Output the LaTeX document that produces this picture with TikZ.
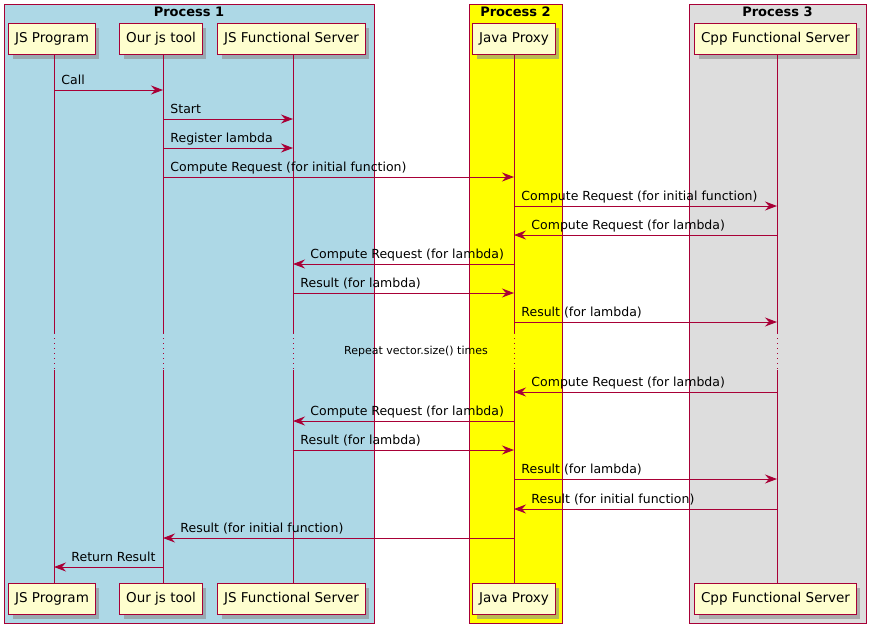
\documentclass[tikz,border=0pt]{standalone}
\usepackage{fontspec}
\setmainfont{DejaVu Sans}
\usetikzlibrary{arrows.meta,shadows}
\definecolor{umlred}{HTML}{A80036}
\definecolor{umlcream}{HTML}{FEFECE}
\definecolor{procblue}{HTML}{ADD8E6}
\definecolor{procyellow}{HTML}{FFFF00}
\definecolor{procgray}{HTML}{DDDDDD}

\begin{document}
\begin{tikzpicture}[
    x=1pt, y=-1pt,
    participant/.style={rectangle, draw=umlred, line width=1.5pt, fill=umlcream, minimum height=31pt, inner xsep=6.5pt, font=\fontsize{13.5}{16}\selectfont, drop shadow={shadow xshift=4pt, shadow yshift=-4pt, fill=black!45, opacity=0.6}},
    procbox/.style={draw=umlred, line width=0.9pt},
    proctitle/.style={font=\bfseries\fontsize{13}{15}\selectfont, anchor=center},
    lifeline/.style={draw=umlred, line width=0.9pt},
    delayline/.style={draw=umlred, line width=0.9pt, dash pattern=on 1pt off 4pt},
    msg/.style={draw=umlred, line width=0.9pt, -{Stealth[length=12pt, width=9pt, inset=4pt]}},
    msglabel/.style={font=\fontsize{12.5}{15}\selectfont, anchor=base west, inner sep=0pt}
]
\useasboundingbox (0,0) rectangle (876,633);

% Process boxes
\draw[procbox, fill=procblue] (4,4) rectangle (374,623);
\node[proctitle] (p1) at (189,12) {Process 1};
\draw[procbox, fill=procyellow] (469,4) rectangle (562,623);
\node[proctitle] (p2) at (515.5,12) {Process 2};
\draw[procbox, fill=procgray] (689,4) rectangle (866,623);
\node[proctitle] (p3) at (777.5,12) {Process 3};

% Delay
\node[font=\fontsize{11}{13}\selectfont] (delay) at (416,351) {Repeat vector.size() times};

% Participants (top and bottom)
\node[participant] (jsp) at (52,39) {JS Program};
\node[participant] (tool) at (161,39) {Our js tool};
\node[participant] (jsfs) at (291.5,39) {JS Functional Server};
\node[participant] (proxy) at (514,39) {Java Proxy};
\node[participant] (cpp) at (775.5,39) {Cpp Functional Server};

\node[participant] (jspb) at (52,599) {JS Program};
\node[participant] (toolb) at (161,599) {Our js tool};
\node[participant] (jsfsb) at (291.5,599) {JS Functional Server};
\node[participant] (proxyb) at (514,599) {Java Proxy};
\node[participant] (cppb) at (775.5,599) {Cpp Functional Server};

% Lifelines
\foreach \p/\x in {jsp/54, tool/163, jsfs/293, proxy/514, cpp/777} {
    \coordinate (\p top) at (\x,333);
    \coordinate (\p bot) at (\x,370);
    \draw[lifeline] (\p.south -| \p top) -- (\p top);
    \draw[delayline] (\p top) -- (\p bot);
    \draw[lifeline] (\p bot) -- (\p b.north -| \p bot);
}

% Messages to the right
\foreach \y/\a/\b/\t in {90/jsp/tool/Call,
        119/tool/jsfs/Start,
        148/tool/jsfs/Register lambda,
        177/tool/proxy/{Compute Request (for initial function)},
        206/proxy/cpp/{Compute Request (for initial function)},
        293/jsfs/proxy/{Result (for lambda)},
        322/proxy/cpp/{Result (for lambda)},
        450/jsfs/proxy/{Result (for lambda)},
        479/proxy/cpp/{Result (for lambda)}}
    \draw[msg] (\a top |- 0,\y) -- (\b top |- 0,\y)
        node[msglabel, pos=0, xshift=7pt, yshift=5.5pt] {\t};

% Messages to the left
\foreach \y/\a/\b/\t in {235/cpp/proxy/{Compute Request (for lambda)},
        264/proxy/jsfs/{Compute Request (for lambda)},
        392/cpp/proxy/{Compute Request (for lambda)},
        421/proxy/jsfs/{Compute Request (for lambda)},
        509/cpp/proxy/{Result (for initial function)},
        538/proxy/tool/{Result (for initial function)},
        567/tool/jsp/Return Result}
    \draw[msg] (\a top |- 0,\y) -- (\b top |- 0,\y)
        node[msglabel, pos=1, xshift=17pt, yshift=5.5pt] {\t};

\end{tikzpicture}
\end{document}
